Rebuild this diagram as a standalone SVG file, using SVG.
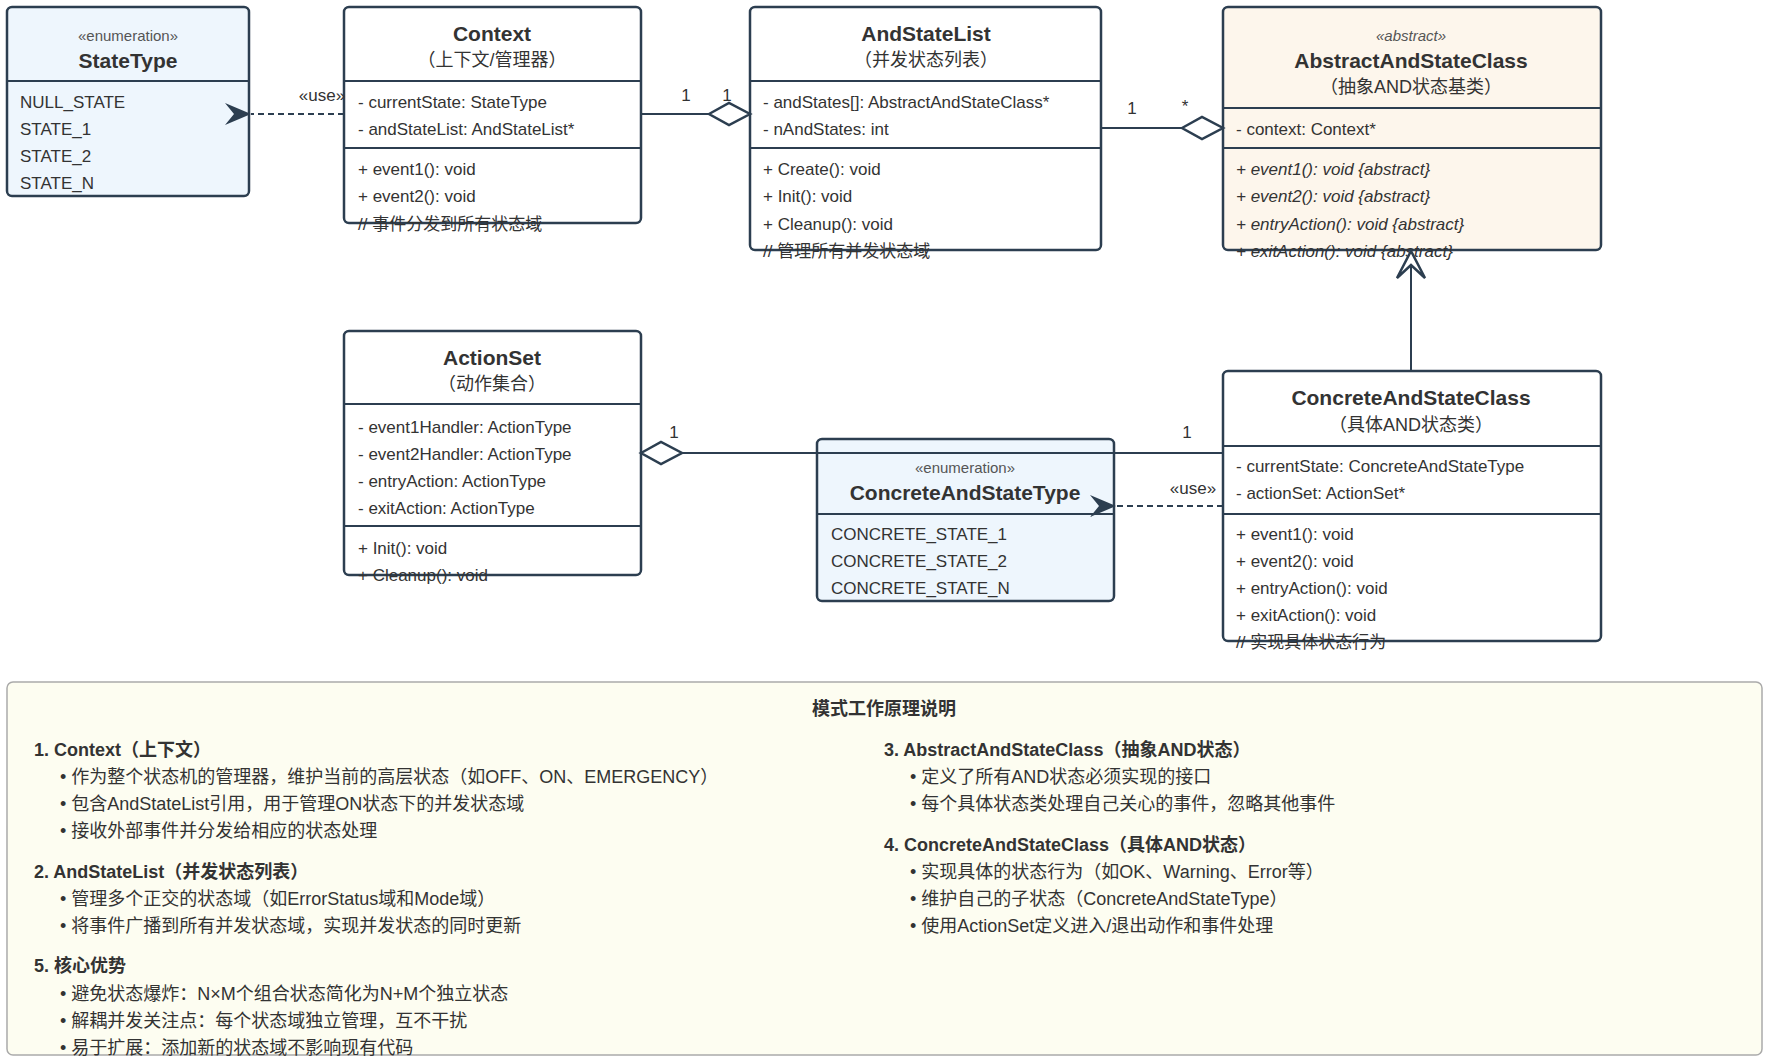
<svg xmlns="http://www.w3.org/2000/svg" width="1767" height="1059" viewBox="0 0 1767 1059">
<style>
text{font-family:"Liberation Sans","Noto Sans CJK SC",sans-serif;fill:#333;dominant-baseline:central}
.box{stroke:#2c3e50;stroke-width:2.5}
.w{fill:#fff}.e{fill:#eef6fd}.a{fill:#fdf6ec}
.div{stroke:#2c3e50;stroke-width:2}
.t{font-size:21px;font-weight:bold;text-anchor:middle}
.s{font-size:18px;text-anchor:middle}
.st{font-size:15px;text-anchor:middle;fill:#555}
.m{font-size:17px}
.i{font-style:italic}
.ln{stroke:#2c3e50;stroke-width:2;fill:none}
.dash{stroke-dasharray:6 4}
.dm{fill:#fff;stroke:#2c3e50;stroke-width:2.5}
.lb{font-size:17px;text-anchor:middle}
.h{font-size:18px;font-weight:bold}
.b{font-size:18px}
</style>
<defs>
<marker id="ar" markerWidth="30" markerHeight="24" refX="1" refY="12" orient="auto" markerUnits="userSpaceOnUse">
<path d="M1,12 L27,1 L18,12 L27,23 Z" fill="#2c3e50"/>
</marker>
</defs>
<rect x="7" y="682" width="1755" height="373" rx="6" fill="#fdfdf1" stroke="#aaa" stroke-width="1.5"/>
<g id="StateType">
<rect class="box e" x="7" y="7" width="242" height="189" rx="5"/>
<line class="div" x1="7" y1="81" x2="249" y2="81"/>
<text class="st" x="128" y="35">«enumeration»</text>
<text class="t" x="128" y="60">StateType</text>
<text class="m" x="20" y="102">NULL_STATE</text>
<text class="m" x="20" y="129">STATE_1</text>
<text class="m" x="20" y="156">STATE_2</text>
<text class="m" x="20" y="183">STATE_N</text>
</g>
<g id="Context">
<rect class="box w" x="344" y="7" width="297" height="216" rx="5"/>
<line class="div" x1="344" y1="81" x2="641" y2="81"/>
<line class="div" x1="344" y1="148" x2="641" y2="148"/>
<text class="t" x="492" y="33">Context</text>
<text class="s" x="492" y="60">（上下文/管理器）</text>
<text class="m" x="358" y="102">- currentState: StateType</text>
<text class="m" x="358" y="129">- andStateList: AndStateList*</text>
<text class="m" x="358" y="169">+ event1(): void</text>
<text class="m" x="358" y="196">+ event2(): void</text>
<text class="m" x="358" y="224">// 事件分发到所有状态域</text>
</g>
<g id="AndStateList">
<rect class="box w" x="750" y="7" width="351" height="243" rx="5"/>
<line class="div" x1="750" y1="81" x2="1101" y2="81"/>
<line class="div" x1="750" y1="148" x2="1101" y2="148"/>
<text class="t" x="926" y="33">AndStateList</text>
<text class="s" x="926" y="60">（并发状态列表）</text>
<text class="m" x="763" y="102">- andStates[]: AbstractAndStateClass*</text>
<text class="m" x="763" y="129">- nAndStates: int</text>
<text class="m" x="763" y="169">+ Create(): void</text>
<text class="m" x="763" y="196">+ Init(): void</text>
<text class="m" x="763" y="224">+ Cleanup(): void</text>
<text class="m" x="763" y="251">// 管理所有并发状态域</text>
</g>
<g id="AbstractAndStateClass">
<rect class="box a" x="1223" y="7" width="378" height="243" rx="5"/>
<line class="div" x1="1223" y1="108" x2="1601" y2="108"/>
<line class="div" x1="1223" y1="148" x2="1601" y2="148"/>
<text class="st i" x="1411" y="35">«abstract»</text>
<text class="t" x="1411" y="60">AbstractAndStateClass</text>
<text class="s" x="1411" y="87">（抽象AND状态基类）</text>
<text class="m" x="1236" y="129">- context: Context*</text>
<text class="m i" x="1236" y="169">+ event1(): void {abstract}</text>
<text class="m i" x="1236" y="196">+ event2(): void {abstract}</text>
<text class="m i" x="1236" y="224">+ entryAction(): void {abstract}</text>
<text class="m i" x="1236" y="251">+ exitAction(): void {abstract}</text>
</g>
<g id="ActionSet">
<rect class="box w" x="344" y="331" width="297" height="244" rx="5"/>
<line class="div" x1="344" y1="404" x2="641" y2="404"/>
<line class="div" x1="344" y1="526" x2="641" y2="526"/>
<text class="t" x="492" y="357">ActionSet</text>
<text class="s" x="492" y="384">（动作集合）</text>
<text class="m" x="358" y="427">- event1Handler: ActionType</text>
<text class="m" x="358" y="454">- event2Handler: ActionType</text>
<text class="m" x="358" y="481">- entryAction: ActionType</text>
<text class="m" x="358" y="508">- exitAction: ActionType</text>
<text class="m" x="358" y="548">+ Init(): void</text>
<text class="m" x="358" y="575">+ Cleanup(): void</text>
</g>
<g id="ConcreteAndStateType">
<rect class="box e" x="817" y="439" width="297" height="162" rx="5"/>
<line class="div" x1="817" y1="514" x2="1114" y2="514"/>
<text class="st" x="965" y="467">«enumeration»</text>
<text class="t" x="965" y="492">ConcreteAndStateType</text>
<text class="m" x="831" y="534">CONCRETE_STATE_1</text>
<text class="m" x="831" y="561">CONCRETE_STATE_2</text>
<text class="m" x="831" y="588">CONCRETE_STATE_N</text>
</g>
<g id="ConcreteAndStateClass">
<rect class="box w" x="1223" y="371" width="378" height="270" rx="5"/>
<line class="div" x1="1223" y1="446" x2="1601" y2="446"/>
<line class="div" x1="1223" y1="514" x2="1601" y2="514"/>
<text class="t" x="1411" y="397">ConcreteAndStateClass</text>
<text class="s" x="1411" y="425">（具体AND状态类）</text>
<text class="m" x="1236" y="466">- currentState: ConcreteAndStateType</text>
<text class="m" x="1236" y="493">- actionSet: ActionSet*</text>
<text class="m" x="1236" y="534">+ event1(): void</text>
<text class="m" x="1236" y="561">+ event2(): void</text>
<text class="m" x="1236" y="588">+ entryAction(): void</text>
<text class="m" x="1236" y="615">+ exitAction(): void</text>
<text class="m" x="1236" y="642">// 实现具体状态行为</text>
</g>
<g id="connectors">
<line class="ln dash" x1="344" y1="114" x2="251" y2="114" marker-end="url(#ar)"/>
<text class="lb" x="322" y="95">«use»</text>
<line class="ln" x1="641" y1="114" x2="709" y2="114"/>
<path class="dm" d="M709,114 L729,103 L750,114 L729,125 Z"/>
<text class="lb" x="686" y="95">1</text>
<text class="lb" x="727" y="95">1</text>
<line class="ln" x1="1101" y1="128" x2="1182" y2="128"/>
<path class="dm" d="M1182,128 L1202,117 L1223,128 L1202,139 Z"/>
<text class="lb" x="1132" y="108">1</text>
<text class="lb" x="1185" y="106">*</text>
<line class="ln" x1="1411" y1="371" x2="1411" y2="252"/>
<path d="M1411,251 L1397,278 L1411,265 L1425,278 Z" fill="#fff" stroke="#2c3e50" stroke-width="2.5"/>
<line class="ln" x1="1223" y1="453" x2="682" y2="453"/>
<path class="dm" d="M641,453 L661,442 L682,453 L661,464 Z"/>
<text class="lb" x="674" y="432">1</text>
<text class="lb" x="1187" y="432">1</text>
<line class="ln dash" x1="1223" y1="506" x2="1116" y2="506" marker-end="url(#ar)"/>
<text class="lb" x="1193" y="488">«use»</text>
</g>
<g id="notes">
<text class="h" x="884" y="709" text-anchor="middle">模式工作原理说明</text>
<text class="h" x="34" y="750">1. Context（上下文）</text>
<text class="b" x="60" y="777">• 作为整个状态机的管理器，维护当前的高层状态（如OFF、ON、EMERGENCY）</text>
<text class="b" x="60" y="804">• 包含AndStateList引用，用于管理ON状态下的并发状态域</text>
<text class="b" x="60" y="831">• 接收外部事件并分发给相应的状态处理</text>
<text class="h" x="34" y="872">2. AndStateList（并发状态列表）</text>
<text class="b" x="60" y="899">• 管理多个正交的状态域（如ErrorStatus域和Mode域）</text>
<text class="b" x="60" y="926">• 将事件广播到所有并发状态域，实现并发状态的同时更新</text>
<text class="h" x="34" y="966">5. 核心优势</text>
<text class="b" x="60" y="994">• 避免状态爆炸：N×M个组合状态简化为N+M个独立状态</text>
<text class="b" x="60" y="1021">• 解耦并发关注点：每个状态域独立管理，互不干扰</text>
<text class="b" x="60" y="1048">• 易于扩展：添加新的状态域不影响现有代码</text>
<text class="h" x="884" y="750">3. AbstractAndStateClass（抽象AND状态）</text>
<text class="b" x="910" y="777">• 定义了所有AND状态必须实现的接口</text>
<text class="b" x="910" y="804">• 每个具体状态类处理自己关心的事件，忽略其他事件</text>
<text class="h" x="884" y="845">4. ConcreteAndStateClass（具体AND状态）</text>
<text class="b" x="910" y="872">• 实现具体的状态行为（如OK、Warning、Error等）</text>
<text class="b" x="910" y="899">• 维护自己的子状态（ConcreteAndStateType）</text>
<text class="b" x="910" y="926">• 使用ActionSet定义进入/退出动作和事件处理</text>
</g>
</svg>
